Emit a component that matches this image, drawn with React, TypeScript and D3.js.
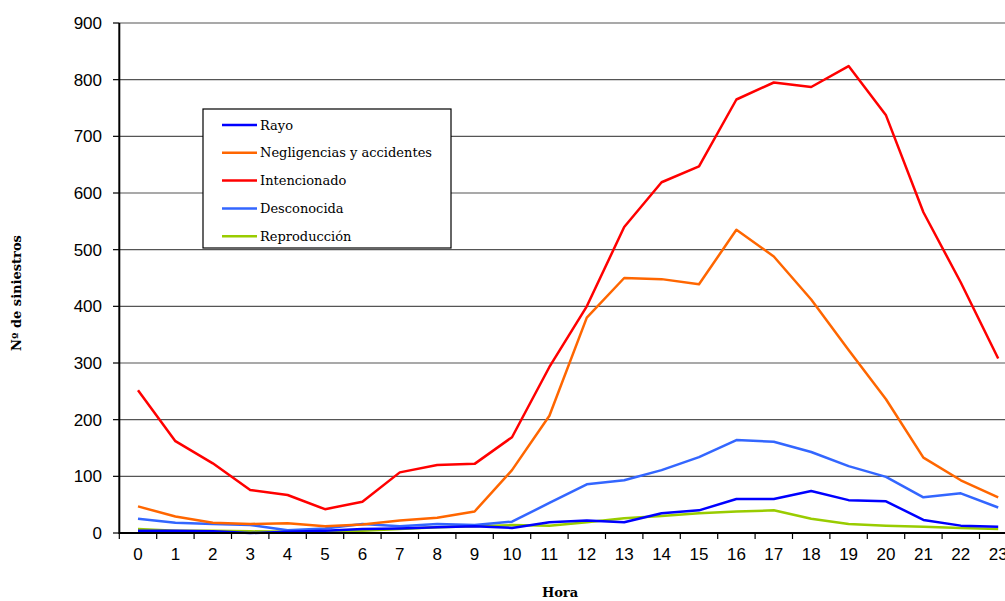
import React from "react";
import * as d3 from "d3";

const hours = d3.range(0, 24).map(String);
const rayo = [4, 4, 3, 0, 2, 4, 7, 8, 10, 12, 9, 19, 22, 19, 35, 40, 60, 60, 74, 58, 56, 23, 13, 11];
const negligencias = [47, 29, 18, 16, 17, 12, 15, 22, 27, 38, 111, 207, 380, 450, 448, 439, 535, 488, 412, 323, 236, 133, 93, 63];
const intencionado = [252, 162, 123, 76, 67, 42, 55, 107, 120, 122, 169, 293, 400, 540, 619, 647, 765, 795, 787, 824, 737, 566, 442, 308];
const desconocida = [25, 18, 16, 14, 5, 8, 16, 12, 16, 14, 20, 53, 86, 93, 111, 134, 164, 161, 143, 118, 99, 63, 70, 45];
const reproduccion = [7, 4, 4, 3, 2, 1, 4, 7, 10, 12, 14, 13, 19, 26, 30, 35, 38, 40, 25, 16, 13, 11, 9, 7];
const yTicks = [0, 100, 200, 300, 400, 500, 600, 700, 800, 900];

const series = [
  { name: "Rayo", values: rayo, color: "#0000FF" },
  { name: "Negligencias y accidentes", values: negligencias, color: "#FF6600" },
  { name: "Intencionado", values: intencionado, color: "#FF0000" },
  { name: "Desconocida", values: desconocida, color: "#3366FF" },
  { name: "Reproducción", values: reproduccion, color: "#99CC00" },
];

export default function App() {
  const W = 1005, H = 601;
  const left = 119.3, bandW = 37.4;
  const x = d3.scaleBand<string>().domain(hours).range([left, left + bandW * 24]);
  const y = d3.scaleLinear().domain([0, 900]).range([533, 23]);
  const line = d3.line<number>().x((_, i) => (x(hours[i]) as number) + x.bandwidth() / 2).y((d) => y(d));
  const drawOrder = [4, 3, 1, 0, 2];
  return (
    <svg width={W} height={H} style={{ position: "absolute", left: 0, top: 0, background: "#fff" }}>
      {yTicks.map((t) => (
        <g key={t}>
          {t > 0 && <line x1={left} x2={W} y1={y(t)} y2={y(t)} stroke="#555" strokeWidth={1.2} />}
          <line x1={113} x2={left} y1={y(t)} y2={y(t)} stroke="#000" strokeWidth={1.2} />
          <text x={102} y={y(t)} dy="0.36em" textAnchor="end" fontFamily="Liberation Sans, Arial" fontSize={17} fill="#000">{t}</text>
        </g>
      ))}
      {hours.map((h, i) => (
        <g key={h}>
          <line x1={left + i * bandW} x2={left + i * bandW} y1={533} y2={539} stroke="#000" strokeWidth={1.2} />
          <text x={(x(h) as number) + x.bandwidth() / 2} y={560} textAnchor="middle" fontFamily="Liberation Sans, Arial" fontSize={17} fill="#000">{h}</text>
        </g>
      ))}
      <line x1={left} x2={left} y1={23} y2={534} stroke="#000" strokeWidth={2} />
      {drawOrder.map((k) => (
        <path key={k} d={line(series[k].values) || ""} fill="none" stroke={series[k].color} strokeWidth={2.5} strokeLinejoin="round" />
      ))}
      <line x1={left} x2={W} y1={533} y2={533} stroke="#000" strokeWidth={2} />
      <g>
        <rect x={203} y={109} width={248} height={139} fill="#fff" stroke="#000" strokeWidth={1.2} />
        {series.map((s, i) => (
          <g key={s.name} transform={`translate(0,${125 + i * 27.8})`}>
            <line x1={222} x2={257} y1={0} y2={0} stroke={s.color} strokeWidth={2.5} />
            <text x={260} y={0} dy="0.35em" fontFamily="DejaVu Serif, serif" fontSize={13} fill="#000">{s.name}</text>
          </g>
        ))}
      </g>
      <text transform="translate(21,293) rotate(-90)" textAnchor="middle" fontFamily="DejaVu Serif, serif" fontWeight="bold" fontSize={13} fill="#000">Nº de siniestros</text>
      <text x={560} y={597} textAnchor="middle" fontFamily="DejaVu Serif, serif" fontWeight="bold" fontSize={13} fill="#000">Hora</text>
    </svg>
  );
}
